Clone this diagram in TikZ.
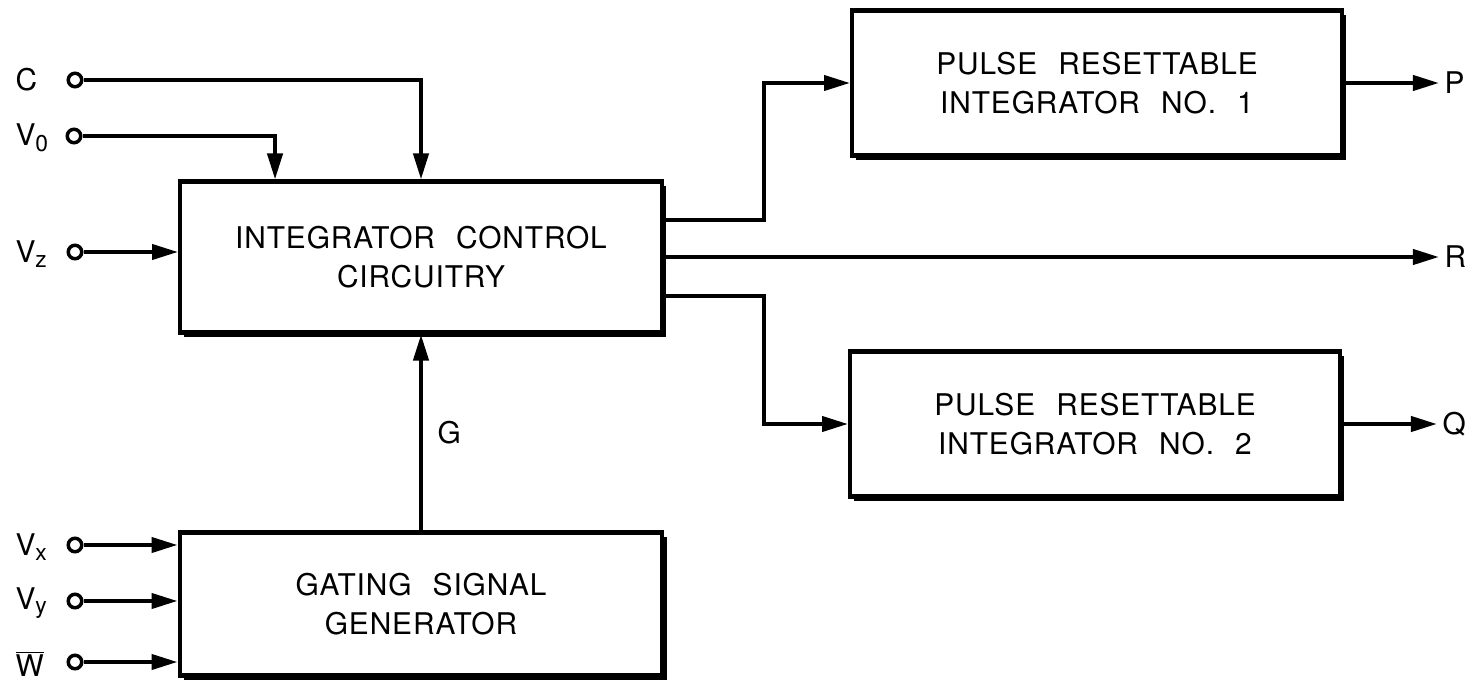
\documentclass[tikz,border=0pt]{standalone}
\usepackage{fontspec}
\setmainfont{TeX Gyre Heros}[LetterSpace=3,WordSpace=2.3]
\usetikzlibrary{arrows.meta,positioning,shadows}
\newcommand{\sigsub}[1]{\textsubscript{\fontsize{13}{13}\selectfont #1}}

\begin{document}
\begin{tikzpicture}[x=0.02cm,y=-0.02cm,
    font=\fontsize{17}{22}\selectfont,
    line width=2.3pt,
    blk/.style={draw,fill=white,align=center,minimum width=9.8cm,minimum height=2.9cm,
      drop shadow={shadow xshift=2.4pt,shadow yshift=-2.4pt,fill=black,opacity=1}},
    trm/.style={circle,draw,fill=white,line width=2pt,inner sep=0pt,minimum size=0.27cm},
    sig/.style={inner sep=2pt},
    flow/.style={-{Triangle[length=0.52cm,width=0.3cm]}}]
  \useasboundingbox (0,0) rectangle (1471,686);
  % blocks
  \node[blk,minimum width=9.64cm,minimum height=3.02cm] (icc) at (421,257) {INTEGRATOR CONTROL\\CIRCUITRY};
  \node[blk,minimum width=9.66cm,minimum height=2.86cm] (gsg) at (421,604) {GATING SIGNAL\\GENERATOR};
  \node[blk] (pri1) at (1097,83) {PULSE RESETTABLE\\INTEGRATOR NO. 1};
  \node[blk] (pri2) at (1095,424) {PULSE RESETTABLE\\INTEGRATOR NO. 2};
  % input terminals
  \node[trm] (tC) at (75,80) {};
  \node[trm] (tVo) at (74,136) {};
  \node[trm] (tVz) at (75,252) {};
  \node[trm] (tVx) at (75,545) {};
  \node[trm] (tVy) at (75,601) {};
  \node[trm] (tW) at (75,662) {};
  \node[sig,anchor=west] (lC) at (10,80) {C};
  \node[sig,anchor=west] (lVo) at (10,138) {V\sigsub{0}};
  \node[sig,anchor=west] (lVz) at (10,254) {V\sigsub{z}};
  \node[sig,anchor=west] (lVx) at (10,547) {V\sigsub{x}};
  \node[sig,anchor=west] (lVy) at (10,603) {V\sigsub{y}};
  \node[sig,anchor=west] (lW) at (10,664) {$\overline{\mbox{W}}$};
  % outputs
  \node[sig,right=1.9cm of pri1] (outP) {P};
  \node[sig,right=1.9cm of pri2] (outQ) {Q};
  \node[sig,anchor=west] (outR) at (outP.west |- icc.east) {R};
  % connections
  \draw[flow] (tC) -| (icc.north);
  \draw[flow] (tVo) -| ([xshift=-2.92cm]icc.north);
  \draw[flow] (tVz) -- (tVz -| icc.west);
  \draw[flow] (tVx) -- (tVx -| gsg.west);
  \draw[flow] (tVy) -- (tVy -| gsg.west);
  \draw[flow] (tW) -- (tW -| gsg.west);
  \draw[flow] (gsg) -- node[sig,right=0.22cm] (lG) {G} (icc);
  \draw[flow] ([yshift=0.74cm]icc.east) -- ++(2cm,0) |- (pri1);
  \draw[flow] (icc) -- (outR);
  \draw[flow] ([yshift=-0.78cm]icc.east) -- ++(2cm,0) |- (pri2);
  \draw[flow] (pri1) -- (outP);
  \draw[flow] (pri2) -- (outQ);
\end{tikzpicture}
\end{document}
